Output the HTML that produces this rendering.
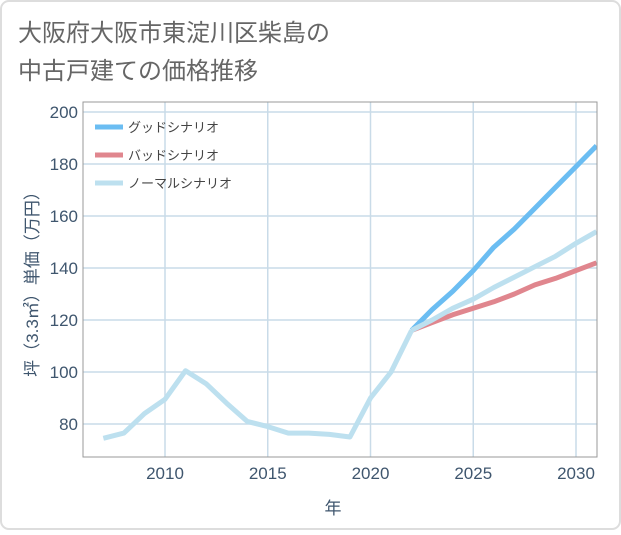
<!DOCTYPE html>
<html><head><meta charset="utf-8"><style>
html,body{margin:0;padding:0;background:#fff;}
body{width:621px;height:530px;overflow:hidden;font-family:"Liberation Sans","Noto Sans CJK JP",sans-serif;}
</style></head><body>
<svg id="c" width="621" height="530" xmlns="http://www.w3.org/2000/svg">
<rect x="1" y="1" width="619" height="528" rx="8" fill="#fff" stroke="#ddd" stroke-width="2"/>
<text x="18" y="41" font-size="24" fill="#666">大阪府大阪市東淀川区柴島の</text>
<text x="18" y="79" font-size="24" fill="#666">中古戸建ての価格推移</text>
<g id="grid"></g>
<g id="axes"></g>
<defs><clipPath id="clip"><rect x="83" y="102" width="514" height="355"/></clipPath></defs>
<g id="lines" clip-path="url(#clip)"></g>
<rect x="83" y="102" width="514" height="355" fill="none" stroke="#999" stroke-width="1"/>
<g id="legend"></g>
<text x="333" y="514" font-size="17" fill="#3f566e" text-anchor="middle">年</text>
<text transform="translate(38,280) rotate(-90)" font-size="17" fill="#3f566e" text-anchor="middle">坪（3.3㎡）単価（万円）</text>
</svg>
<script>
const years=[2007,2008,2009,2010,2011,2012,2013,2014,2015,2016,2017,2018,2019,2020,2021,2022];
const normalHist=[74.5,76.5,84,89.5,100.5,95.5,88,81,79,76.5,76.5,76,75,90,100,116];
const futureYears=[2022,2023,2024,2025,2026,2027,2028,2029,2030,2031];
const goodVals=[116,124,131,139,148,155,163,171,179,187];
const badVals=[116,119,122,124.5,127,130,133.5,136,139,142];
const normalVals=[116,120,124.5,128,132.5,136.5,140.5,144.5,149.5,154];
const xTicks=[2010,2015,2020,2025,2030];
const yTicks=[80,100,120,140,160,180,200];
const NS="http://www.w3.org/2000/svg";
const X=v=>165+(v-2010)*20.55;
const Y=v=>112+(200-v)*2.6;
function mk(t,a,p){const e=document.createElementNS(NS,t);for(const k in a)e.setAttribute(k,a[k]);p.appendChild(e);return e;}
const grid=document.getElementById('grid'),axes=document.getElementById('axes'),lines=document.getElementById('lines'),legend=document.getElementById('legend');
xTicks.forEach(t=>{
const l=mk('line',{x1:X(t),x2:X(t),y1:102,y2:457,stroke:'#c9dbe8','stroke-width':1.5},grid);


const tx=mk('text',{x:X(t),y:479,'font-size':17,fill:'#3f566e','text-anchor':'middle'},axes);tx.textContent=t;


});
yTicks.forEach(t=>{
const l=mk('line',{x1:83,x2:597,y1:Y(t),y2:Y(t),stroke:'#c9dbe8','stroke-width':1.5},grid);


const tx=mk('text',{x:78,y:Y(t)+6,'font-size':17,fill:'#3f566e','text-anchor':'end'},axes);tx.textContent=t;


});
function line(xs,ys,color,name){
const p=mk('polyline',{points:xs.map((x,i)=>X(x)+','+Y(ys[i])).join(' '),fill:'none',stroke:color,'stroke-width':5,'stroke-linejoin':'round'},lines);


}
line(futureYears,badVals,'#e0868e','bad-scenario-line');
line(futureYears,goodVals,'#6bbdf2','good-scenario-line');
line(futureYears,normalVals,'#bde0ef','normal-scenario-line');
line(years,normalHist,'#bde0ef','historical-line');
[['グッドシナリオ','#6bbdf2',127],['バッドシナリオ','#e0868e',155],['ノーマルシナリオ','#bde0ef',183]].forEach((d,i)=>{
const r=mk('line',{x1:95,x2:123,y1:d[2],y2:d[2],stroke:d[1],'stroke-width':5},legend);


const t=mk('text',{x:128,y:d[2]+5,'font-size':13,fill:'#444'},legend);t.textContent=d[0];


});
</script>
</body></html>
